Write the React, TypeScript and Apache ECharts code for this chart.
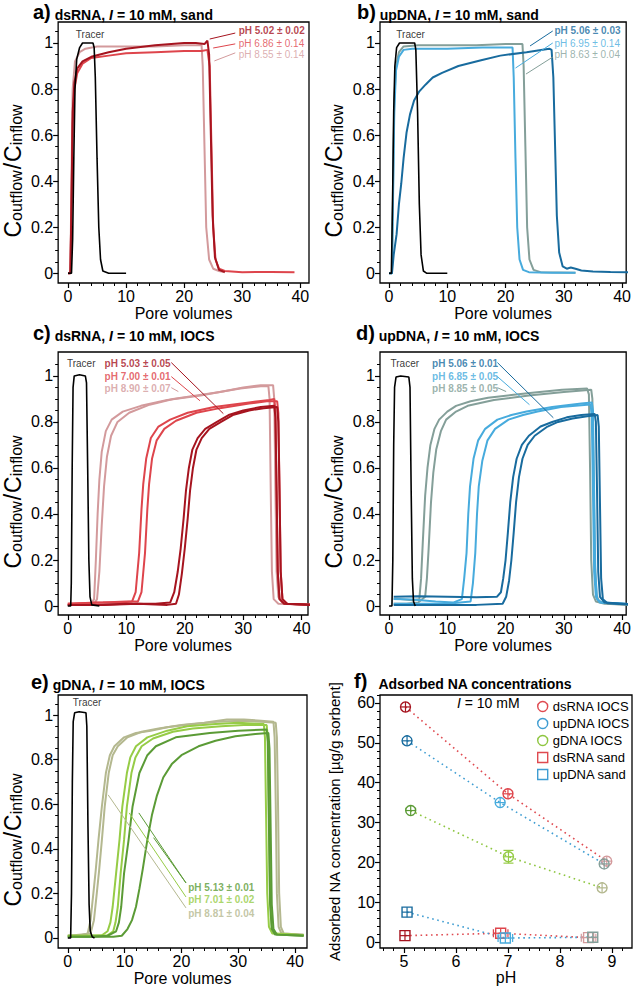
import React, { useEffect, useRef } from "react";
import * as echarts from "echarts";

const FONT = '"Liberation Sans", Arial, Helvetica, sans-serif';

// ---------- colours (pH 5, pH 7, pH 9) ----------
const DSRNA = ["#a6141f", "#de454c", "#d39a9c"];
const UPDNA = ["#186b9e", "#47abdd", "#849f99"];
const GDNA = ["#5b9b36", "#96cc46", "#b4b88f"];
const LEG_DS = "#df4a50";
const LEG_UP = "#3f9dd2";
const LEG_G = "#8ec640";

// ---------- tick labels ----------
const xMajor = [0, 10, 20, 30, 40];
const yMajor = [0, 0.2, 0.4, 0.6, 0.8, 1];
const phMajor = [5, 6, 7, 8, 9];
const concMajor = [0, 10, 20, 30, 40, 50, 60];

// ---------- panel a: dsRNA, sand ----------
const tracerA = [[0,0],[0.6,0],[0.8,0.15],[1,0.5],[1.2,0.8],[1.5,0.93],[2,0.98],[2.5,1],[3,1],[4.3,1],[4.5,0.98],[4.7,0.85],[5,0.5],[5.3,0.2],[5.6,0.06],[6,0.01],[7,0],[10,0]];
const dsSand5 = [[0,0],[0.4,0],[0.6,0.3],[0.8,0.7],[1.1,0.83],[1.6,0.89],[2.5,0.92],[4,0.94],[7,0.96],[10,0.975],[15,0.99],[20,1.0],[22,1.0],[23.5,0.995],[24,1.01],[24.3,0.95],[24.6,0.6],[24.9,0.25],[25.3,0.07],[26,0.015],[27,0.005]];
const dsSand7 = [[0,0],[0.4,0],[0.6,0.3],[0.8,0.65],[1.1,0.8],[1.6,0.87],[2.5,0.91],[4,0.935],[7,0.945],[10,0.955],[15,0.96],[20,0.965],[23,0.965],[24,0.97],[24.4,0.9],[24.7,0.55],[25,0.2],[25.4,0.06],[26,0.02],[27,0.01],[30,0.005],[35,0.006],[39,0.005]];
const dsSand9 = [[0,0],[0.4,0],[0.6,0.4],[0.8,0.8],[1.2,0.92],[2,0.96],[3,0.975],[5,0.985],[10,0.985],[15,0.985],[20,0.99],[23,0.99],[23.2,0.9],[23.5,0.55],[23.8,0.2],[24.3,0.06],[25,0.02],[26,0.01],[27,0.005]];

// ---------- panel b: upDNA, sand ----------
const tracerB = [[0,0],[0.4,0],[0.6,0.3],[0.8,0.7],[1,0.9],[1.3,0.98],[1.8,1],[4.4,1],[4.6,0.97],[4.9,0.7],[5.2,0.3],[5.5,0.08],[5.9,0.01],[6.5,0],[10,0]];
const upSand5 = [[0,0],[0.5,0],[0.8,0.08],[1.3,0.17],[1.7,0.3],[2.1,0.39],[2.5,0.5],[3,0.61],[3.6,0.69],[4.3,0.75],[5.2,0.79],[6.3,0.82],[7.5,0.85],[9.1,0.87],[11.9,0.9],[15.8,0.925],[19.1,0.945],[23.6,0.96],[27.5,0.975],[27.9,0.97],[28.2,0.85],[28.5,0.55],[28.8,0.25],[29.2,0.09],[29.8,0.03],[30.5,0.02],[31.2,0.025],[32,0.02],[33,0.012],[35,0.008],[38,0.006],[41.5,0.004]];
const upSand7 = [[0,0],[0.5,0],[0.7,0.35],[0.9,0.7],[1.2,0.88],[1.7,0.94],[2.5,0.97],[4,0.975],[10,0.975],[16,0.98],[20,0.98],[21.2,0.98],[21.4,0.85],[21.7,0.5],[22,0.2],[22.4,0.06],[23,0.015],[24,0.005],[28,0.003],[32,0.003]];
const upSand9 = [[0,0],[0.5,0],[0.7,0.4],[0.9,0.75],[1.2,0.9],[1.7,0.96],[2.5,0.985],[5,0.99],[10,0.99],[15,0.99],[20,0.995],[22.9,0.995],[23.1,0.9],[23.4,0.55],[23.7,0.2],[24.1,0.06],[24.8,0.015],[26,0.005],[32,0.003]];

// ---------- panel c: dsRNA, IOCS ----------
const tracerC = [[0,0],[0.5,0],[0.6,0.1],[0.75,0.6],[0.9,0.95],[1.1,1.0],[2,1.005],[3.0,1.0],[3.2,0.97],[3.4,0.6],[3.6,0.2],[3.8,0.04],[4.1,0.005],[5.4,0]];
const dsIocs9a = [[0,0.005],[4,0.01],[4.5,0.03],[4.8,0.2],[5.1,0.4],[5.4,0.55],[5.8,0.67],[6.5,0.76],[7.5,0.81],[9.4,0.845],[12.5,0.87],[17,0.895],[22.7,0.915],[26,0.93],[29.5,0.945],[33,0.955],[34.3,0.955],[34.5,0.9],[34.7,0.5],[34.9,0.15],[35.2,0.03],[36,0.01],[41.5,0.005]];
const dsIocs9b = [[0,0.005],[4.5,0.01],[5,0.03],[5.4,0.15],[5.8,0.35],[6.2,0.52],[6.7,0.65],[7.4,0.74],[8.5,0.8],[10.5,0.84],[14,0.875],[18,0.9],[22,0.915],[26,0.93],[30,0.95],[33,0.96],[35.1,0.96],[35.3,0.9],[35.5,0.5],[35.7,0.15],[36,0.04],[36.8,0.01],[41.5,0.005]];
const dsIocs7a = [[0,0.01],[5,0.015],[9,0.015],[11,0.02],[11.6,0.06],[12.2,0.23],[12.6,0.42],[12.9,0.53],[13.4,0.64],[14.2,0.73],[15.5,0.78],[17.5,0.81],[20.5,0.84],[25,0.865],[31,0.885],[34.5,0.895],[35.3,0.9],[35.5,0.85],[35.7,0.5],[35.9,0.15],[36.2,0.03],[37,0.01],[41.5,0.005]];
const dsIocs7b = [[0,0.01],[6,0.015],[10,0.02],[12,0.02],[12.6,0.06],[13.2,0.23],[13.6,0.42],[13.9,0.53],[14.4,0.64],[15.2,0.72],[16.5,0.77],[18.5,0.805],[22,0.84],[26,0.86],[31,0.88],[34,0.89],[35.8,0.89],[36,0.84],[36.2,0.5],[36.4,0.15],[36.7,0.03],[37.5,0.01],[41.5,0.005]];
const dsIocs5a = [[0,0.005],[5,0.005],[10,0.01],[15,0.01],[17.5,0.015],[18.2,0.06],[18.8,0.15],[19.3,0.25],[19.8,0.38],[20.2,0.5],[20.7,0.6],[21.3,0.68],[22.2,0.73],[23.5,0.77],[25.5,0.8],[27.5,0.83],[30,0.85],[33,0.865],[35.3,0.87],[35.5,0.82],[35.7,0.5],[35.9,0.15],[36.2,0.03],[37,0.01],[41.5,0.005]];
const dsIocs5b = [[0,0.005],[6,0.005],[12,0.01],[17,0.005],[18.5,0.01],[19,0.05],[19.5,0.14],[20,0.25],[20.5,0.38],[20.9,0.5],[21.4,0.6],[22,0.68],[22.9,0.73],[24.2,0.77],[26.2,0.8],[28.2,0.83],[31,0.85],[33.5,0.86],[35.8,0.865],[36,0.8],[36.2,0.5],[36.4,0.15],[36.7,0.03],[37.5,0.01],[41.5,0.005]];

// ---------- panel d: upDNA, IOCS ----------
const tracerD = [[0,0],[0.5,0],[0.65,0.2],[0.8,0.7],[0.95,0.95],[1.2,0.995],[2,1.0],[3.4,0.995],[3.6,0.95],[3.8,0.5],[4.0,0.12],[4.2,0.02],[4.5,0]];
const upIocs9a = [[0.8,0.03],[2,0.03],[4,0.025],[5.2,0.03],[5.5,0.12],[5.8,0.28],[6.2,0.48],[6.6,0.6],[7.1,0.7],[7.8,0.77],[8.6,0.81],[10,0.845],[11.5,0.87],[14,0.89],[17,0.905],[21,0.917],[25,0.928],[29.7,0.94],[34,0.945],[34.3,0.92],[34.5,0.6],[34.7,0.2],[35,0.05],[35.5,0.02],[37,0.01],[41.5,0.005]];
const upIocs9b = [[0.8,0.01],[3,0.01],[5,0.015],[6.2,0.04],[6.5,0.12],[6.8,0.25],[7.2,0.45],[7.6,0.58],[8.1,0.68],[8.9,0.76],[9.8,0.81],[11.5,0.845],[13.5,0.87],[18,0.895],[24,0.915],[30,0.93],[34.7,0.94],[34.9,0.9],[35.1,0.6],[35.3,0.2],[35.6,0.05],[36,0.02],[38,0.01],[41.5,0.005]];
const upIocs7a = [[0.8,0.03],[4,0.028],[8,0.02],[11,0.015],[12.5,0.03],[12.9,0.12],[13.3,0.23],[13.6,0.4],[13.9,0.52],[14.5,0.64],[15.3,0.72],[16.5,0.77],[18.6,0.81],[21,0.83],[23.6,0.845],[28,0.865],[33,0.88],[34.8,0.885],[35,0.85],[35.2,0.5],[35.4,0.15],[35.7,0.03],[36.5,0.015],[41.5,0.008]];
const upIocs7b = [[0.8,0.01],[5,0.01],[10,0.01],[14,0.02],[14.4,0.1],[14.8,0.23],[15.1,0.4],[15.4,0.52],[16,0.63],[16.9,0.72],[18.2,0.77],[20.5,0.81],[23,0.83],[25.5,0.845],[29.5,0.865],[34,0.875],[34.6,0.875],[34.8,0.82],[35,0.5],[35.2,0.15],[35.5,0.04],[36.2,0.015],[41.5,0.008]];
const upIocs5a = [[0.8,0.04],[5,0.042],[10,0.04],[15,0.038],[18.5,0.04],[19.2,0.06],[19.6,0.12],[20,0.2],[20.4,0.32],[20.8,0.45],[21.3,0.56],[21.9,0.64],[22.8,0.7],[24,0.74],[26,0.78],[28,0.8],[30.5,0.82],[33,0.83],[35.3,0.835],[35.5,0.8],[35.7,0.5],[35.9,0.15],[36.2,0.04],[37,0.015],[41.5,0.008]];
const upIocs5b = [[0.8,0.005],[5,0.005],[10,0.005],[15,0.005],[19.5,0.01],[20.1,0.04],[20.6,0.11],[21,0.2],[21.4,0.32],[21.8,0.45],[22.3,0.56],[22.9,0.64],[23.8,0.7],[25,0.74],[27.2,0.78],[29,0.8],[31.5,0.815],[34,0.825],[35.8,0.83],[36,0.78],[36.2,0.45],[36.4,0.12],[36.7,0.03],[37.5,0.012],[41.5,0.006]];

// ---------- panel e: gDNA, IOCS ----------
const tracerE = [[0,0],[0.5,0],[0.65,0.2],[0.8,0.7],[0.95,0.97],[1.2,1.01],[2,1.015],[3.2,1.01],[3.35,0.95],[3.55,0.5],[3.75,0.15],[3.95,0.03],[4.3,0.005],[4.7,0]];
const gIocs9a = [[0,0.01],[2,0.01],[3.5,0.02],[4,0.08],[4.5,0.2],[4.9,0.3],[5.4,0.44],[6,0.59],[6.7,0.74],[7.4,0.82],[8.2,0.86],[9.9,0.9],[12,0.92],[14.6,0.93],[17.5,0.945],[20.5,0.955],[26.3,0.97],[30.4,0.975],[34,0.97],[36.6,0.965],[36.8,0.9],[37.0,0.6],[37.2,0.2],[37.5,0.05],[38,0.02],[41.5,0.015]];
const gIocs9b = [[0,0.01],[2,0.015],[4,0.02],[4.6,0.08],[5.1,0.2],[5.5,0.3],[6,0.44],[6.5,0.59],[7.2,0.74],[7.9,0.82],[8.8,0.86],[10.5,0.9],[13,0.925],[16,0.94],[20,0.955],[24,0.965],[28,0.98],[31,0.98],[34,0.975],[36.2,0.97],[36.4,0.9],[36.6,0.6],[36.8,0.2],[37.1,0.05],[37.6,0.02],[41.5,0.015]];
const gIocs7a = [[0,0.01],[3,0.01],[6,0.012],[7,0.03],[7.5,0.07],[7.9,0.14],[8.5,0.29],[9.1,0.44],[9.6,0.59],[10.4,0.74],[11,0.81],[12,0.86],[14,0.9],[17.5,0.93],[21,0.95],[26,0.96],[30,0.965],[34.5,0.96],[34.7,0.9],[34.9,0.55],[35.1,0.2],[35.4,0.05],[36,0.02],[41.5,0.012]];
const gIocs7b = [[0,0.01],[4,0.01],[7,0.012],[8,0.03],[8.4,0.07],[8.8,0.14],[9.3,0.29],[9.9,0.44],[10.4,0.59],[11.2,0.74],[11.9,0.81],[13,0.86],[15,0.895],[18.5,0.925],[22,0.94],[27,0.95],[31,0.955],[35,0.955],[35.2,0.9],[35.4,0.55],[35.6,0.2],[35.9,0.05],[36.5,0.02],[41.5,0.012]];
const gIocs5a = [[0,0.005],[4,0.005],[7,0.01],[8.5,0.03],[9,0.07],[9.4,0.14],[9.9,0.29],[10.7,0.44],[11.4,0.59],[12.6,0.74],[14,0.82],[15.5,0.86],[19,0.9],[25,0.92],[30,0.93],[35,0.935],[35.2,0.88],[35.4,0.5],[35.6,0.15],[35.9,0.04],[36.5,0.015],[41.5,0.01]];
const gIocs5b = [[0,0.005],[5,0.005],[8,0.005],[9.5,0.01],[10.5,0.04],[11.3,0.08],[12,0.14],[12.6,0.22],[13.2,0.31],[14,0.44],[14.8,0.55],[15.7,0.64],[16.8,0.72],[18.3,0.78],[20,0.82],[23,0.86],[26,0.885],[29.5,0.905],[33,0.915],[35.3,0.92],[35.5,0.85],[35.7,0.5],[35.9,0.15],[36.2,0.04],[36.8,0.015],[41.5,0.01]];

// ---------- panel f: adsorbed NA concentrations ----------
const phDsIocs = [5.03, 7.0, 8.9];
const concDsIocs = [59.0, 37.2, 20.3];
const phUpIocs = [5.06, 6.85, 8.85];
const concUpIocs = [50.5, 35.0, 19.6];
const phGIocs = [5.13, 7.01, 8.81];
const concGIocs = [33.0, 21.4, 13.6];
const phDsSand = [5.02, 6.86, 8.55];
const concDsSand = [1.6, 2.2, 1.1];
const phUpSand = [5.06, 6.95, 8.63];
const concUpSand = [7.5, 1.0, 1.2];
const phSdDsIocs = [0.05, 0.01, 0.07];
const phSdUpIocs = [0.01, 0.05, 0.05];
const phSdGIocs = [0.01, 0.02, 0.04];
const phSdDsSand = [0.02, 0.14, 0.14];
const phSdUpSand = [0.03, 0.14, 0.04];
const concSdDsIocs = [1.2, 1.0, 1.0];
const concSdUpIocs = [0.8, 1.0, 1.0];
const concSdGIocs = [0.8, 1.6, 0.8];
const concSdDsSand = [1.2, 1.2, 0.8];
const concSdUpSand = [1.2, 1.2, 0.8];

function steps(a: number, b: number, s: number) {
  const out: number[] = [];
  const n = Math.round((b - a) / s);
  for (let i = 0; i <= n; i++) out.push(+(a + i * s).toFixed(4));
  return out;
}

type Note = { text: string; color: string; bold?: boolean; at: number[]; from: number[]; to: number[]; mid?: number[] };

const Y_NAME_RICH = {
  C: { fontSize: 23, lineHeight: 23, padding: [0, 0, 3, 0], verticalAlign: "top", fontFamily: FONT, color: "#000" },
  s: { fontSize: 16, lineHeight: 16, verticalAlign: "bottom", fontFamily: FONT, color: "#000" },
  sl: { fontSize: 23, lineHeight: 23, padding: [0, 1, 3, 1], verticalAlign: "top", fontFamily: FONT, color: "#000" },
};

const TITLE_RICH = {
  p: { fontSize: 20, fontWeight: "bold", lineHeight: 20, verticalAlign: "bottom", fontFamily: FONT, color: "#000" },
  b: { fontSize: 14, fontWeight: "bold", lineHeight: 16, verticalAlign: "bottom", fontFamily: FONT, color: "#000" },
  bi: { fontSize: 14, fontWeight: "bold", fontStyle: "italic", lineHeight: 16, verticalAlign: "bottom", fontFamily: FONT, color: "#000" },
};

const panels = [
  {
    box: [57, 22, 252, 261], xr: [-1.7, 41.5], yr: [-0.042, 1.091], title: [33, 2, "a)", "dsRNA, ", " = 10 mM, sand"],
    curves: [[dsSand9, DSRNA[2]], [dsSand7, DSRNA[1]], [dsSand5, DSRNA[0]]], tracer: tracerA, tracerAt: [3.8, 1.035],
    notes: [
      { text: "pH 5.02 ± 0.02", color: DSRNA[0], bold: true, at: [29.3, 1.052], from: [28.8, 1.043], to: [24.4, 1.017] },
      { text: "pH 6.86 ± 0.14", color: DSRNA[1], at: [29.3, 0.996], from: [28.8, 0.996], to: [25.0, 0.978] },
      { text: "pH 8.55 ± 0.14", color: DSRNA[2], at: [29.3, 0.948], from: [28.8, 0.957], to: [25.2, 0.922] },
    ] as Note[],
  },
  {
    box: [380, 22, 253, 261], xr: [-1.55, 40.7], yr: [-0.042, 1.091], title: [357, 2, "b)", "upDNA, ", " = 10 mM, sand"],
    curves: [[upSand9, UPDNA[2]], [upSand7, UPDNA[1]], [upSand5, UPDNA[0]]], tracer: tracerB, tracerAt: [3.7, 1.035],
    notes: [
      { text: "pH 5.06 ± 0.03", color: UPDNA[0], bold: true, at: [28.3, 1.052], from: [28.1, 1.052], to: [24.2, 0.987] },
      { text: "pH 6.95 ± 0.14", color: UPDNA[1], at: [28.3, 0.998], from: [28.1, 1.0], to: [21.7, 0.891] },
      { text: "pH 8.63 ± 0.04", color: UPDNA[2], at: [28.3, 0.948], from: [28.1, 0.939], to: [23.5, 0.865] },
    ] as Note[],
  },
  {
    box: [57, 352, 251, 263], xr: [-1.65, 41.07], yr: [-0.039, 1.104], title: [33, 323, "c)", "dsRNA, ", " = 10 mM, IOCS"],
    curves: [[dsIocs9a, DSRNA[2]], [dsIocs9b, DSRNA[2]], [dsIocs7a, DSRNA[1]], [dsIocs7b, DSRNA[1]], [dsIocs5a, DSRNA[0]], [dsIocs5b, DSRNA[0]]],
    tracer: tracerC, tracerAt: [2.3, 1.054],
    notes: [
      { text: "pH 5.03 ± 0.05", color: DSRNA[0], bold: true, at: [6.2, 1.054], from: [17.7, 1.058], to: [26.6, 0.836] },
      { text: "pH 7.00 ± 0.01", color: DSRNA[1], bold: true, at: [6.2, 0.997], from: [17.7, 0.997], to: [22.6, 0.892] },
      { text: "pH 8.90 ± 0.07", color: DSRNA[2], bold: true, at: [6.2, 0.945], from: [17.7, 0.949], to: [18.9, 0.932] },
    ] as Note[],
  },
  {
    box: [380, 352, 253, 263], xr: [-1.55, 40.7], yr: [-0.039, 1.104], title: [356, 323, "d)", "upDNA, ", " = 10 mM, IOCS"],
    curves: [[upIocs9a, UPDNA[2]], [upIocs9b, UPDNA[2]], [upIocs7a, UPDNA[1]], [upIocs7b, UPDNA[1]], [upIocs5a, UPDNA[0]], [upIocs5b, UPDNA[0]]],
    tracer: tracerD, tracerAt: [2.7, 1.054],
    notes: [
      { text: "pH 5.06 ± 0.01", color: UPDNA[0], bold: true, at: [7.3, 1.054], from: [18.6, 1.058], to: [28.2, 0.818] },
      { text: "pH 6.85 ± 0.05", color: UPDNA[1], bold: true, at: [7.3, 0.997], from: [18.6, 0.997], to: [24.1, 0.875] },
      { text: "pH 8.85 ± 0.05", color: UPDNA[2], bold: true, at: [7.3, 0.945], from: [18.6, 0.949], to: [20.1, 0.932] },
    ] as Note[],
  },
  {
    box: [57, 695, 250, 253], xr: [-1.7, 42.1], yr: [-0.045, 1.09], title: [31, 672, "e)", "gDNA, ", " = 10 mM, IOCS"],
    curves: [[gIocs9a, GDNA[2]], [gIocs9b, GDNA[2]], [gIocs7a, GDNA[1]], [gIocs7b, GDNA[1]], [gIocs5a, GDNA[0]], [gIocs5b, GDNA[0]]],
    tracer: tracerE, tracerAt: [3.4, 1.055],
    notes: [
      { text: "pH 5.13 ± 0.01", color: GDNA[0], bold: true, at: [21.1, 0.225], from: [20.8, 0.247], to: [12.5, 0.561], mid: [15.1, 0.45] },
      { text: "pH 7.01 ± 0.02", color: GDNA[1], bold: true, at: [21.1, 0.171], from: [20.8, 0.184], to: [10.8, 0.561] },
      { text: "pH 8.81 ± 0.04", color: GDNA[2], bold: true, at: [21.1, 0.112], from: [20.8, 0.135], to: [7.1, 0.642] },
    ] as Note[],
  },
];

function mainAxis(dim: "x" | "y", gi: number, r: number[], major: number[], name: string, nameGap: number, nameStyle: any) {
  return {
    type: "value", gridIndex: gi, position: dim === "x" ? "bottom" : "left", min: r[0], max: r[1],
    axisLine: { show: false, onZero: false }, splitLine: { show: false },
    axisTick: { show: true, length: 5, customValues: major, lineStyle: { color: "#000", width: 1.2 } },
    axisLabel: { show: true, customValues: major, margin: 5, fontSize: 16, color: "#000", fontFamily: FONT },
    name, nameLocation: "middle", nameGap, nameRotate: dim === "y" ? 90 : 0, nameTextStyle: nameStyle,
  };
}
function minorAxis(dim: "x" | "y", gi: number, r: number[], minor: number[]) {
  return {
    type: "value", gridIndex: gi, position: dim === "x" ? "bottom" : "left", min: r[0], max: r[1],
    axisLine: { show: false, onZero: false }, splitLine: { show: false }, axisLabel: { show: false },
    axisTick: { show: true, length: 3, customValues: minor, lineStyle: { color: "#000", width: 1 } },
  };
}

function buildOption() {
  const grid: any[] = [], xAxis: any[] = [], yAxis: any[] = [], series: any[] = [], title: any[] = [];
  const xMinor = steps(0, 40, 2);
  const yMinor = steps(0, 1.05, 0.05);

  panels.forEach((p, i) => {
    grid.push({ left: p.box[0], top: p.box[1], width: p.box[2], height: p.box[3], show: true, borderColor: "#000", borderWidth: 1.3, backgroundColor: "transparent" });
    const xi = xAxis.length, yi = yAxis.length;
    xAxis.push(mainAxis("x", i, p.xr, xMajor, "Pore volumes", 22, { fontSize: 16, color: "#000", fontFamily: FONT }));
    xAxis.push(minorAxis("x", i, p.xr, xMinor.filter((v) => v >= p.xr[0] && v <= p.xr[1])));
    yAxis.push(mainAxis("y", i, p.yr, yMajor, "{C|C}{s|outflow}{sl|/}{C|C}{s|inflow}", 29, { rich: Y_NAME_RICH, fontFamily: FONT, color: "#000", padding: [0, 37, 0, 0] }));
    yAxis.push(minorAxis("y", i, p.yr, yMinor.filter((v) => v >= p.yr[0] && v <= p.yr[1])));

    const t = p.title as any[];
    title.push({ left: t[0], top: t[1], padding: 0, text: `{p|${t[2]}}{b| ${t[3]}}{bi|I}{b|${t[4]}}`, textStyle: { rich: TITLE_RICH } });

    (p.curves as any[]).forEach(([data, color]) => {
      series.push({ type: "line", xAxisIndex: xi, yAxisIndex: yi, data, symbol: "none", silent: true, lineStyle: { color, width: 2 }, z: 2 });
    });
    series.push({ type: "line", xAxisIndex: xi, yAxisIndex: yi, data: p.tracer, symbol: "none", silent: true, lineStyle: { color: "#000", width: 1.6 }, z: 3 });
    series.push({
      type: "scatter", xAxisIndex: xi, yAxisIndex: yi, silent: true, symbolSize: 1, itemStyle: { color: "rgba(0,0,0,0)" }, z: 5,
      data: [p.tracerAt],
      label: { show: true, position: "inside", formatter: "Tracer", color: "#000", fontSize: 10, fontFamily: FONT },
    });
    p.notes.forEach((n) => {
      const lines: any[] = [[{ coord: n.from }, { coord: n.to }]];
      if (n.mid) lines.push([{ coord: n.from }, { coord: n.mid }]);
      series.push({
        type: "scatter", xAxisIndex: xi, yAxisIndex: yi, silent: true, symbolSize: 1, itemStyle: { color: "rgba(0,0,0,0)" }, z: 5,
        data: [n.at],
        label: { show: true, position: "right", distance: 0, formatter: n.text, color: n.color, fontSize: 10, fontWeight: n.bold ? "bold" : "normal", fontFamily: FONT },
        markLine: {
          silent: true, animation: false, symbol: ["none", "arrow"], symbolSize: [0, 5], label: { show: false },
          lineStyle: { color: n.color, width: 1, type: "solid" }, emphasis: { disabled: true }, data: lines,
        },
      });
    });
  });

  // ---------- panel f ----------
  const fi = panels.length;
  const fxr = [4.54, 9.385], fyr = [-1.5, 62];
  grid.push({ left: 380, top: 695, width: 252, height: 253, show: true, borderColor: "#000", borderWidth: 1.3, backgroundColor: "transparent" });
  const xi = xAxis.length, yi = yAxis.length;
  xAxis.push(mainAxis("x", fi, fxr, phMajor, "pH", 19, { fontSize: 16, color: "#000", fontFamily: FONT }));
  xAxis.push(minorAxis("x", fi, fxr, steps(4.6, 9.2, 0.2)));
  yAxis.push(mainAxis("y", fi, fyr, concMajor, "Adsorbed NA concentration [µg/g sorbent]", 38, { fontSize: 15, color: "#000", fontFamily: FONT }));
  yAxis.push(minorAxis("y", fi, fyr, steps(0, 62, 2)));
  title.push({ left: 354, top: 671, padding: 0, text: "{p|f)}{b|   Adsorbed NA concentrations}", textStyle: { rich: TITLE_RICH } });
  title.push({
    left: 457, top: 696, padding: 0, text: "{i|I}{t| = 10 mM}",
    textStyle: {
      fontWeight: "normal",
      rich: {
        i: { fontSize: 14, fontStyle: "italic", fontWeight: "normal", fontFamily: FONT, color: "#000" },
        t: { fontSize: 14, fontWeight: "normal", fontFamily: FONT, color: "#000" },
      },
    },
  });

  const groups = [
    { name: "dsRNA IOCS", shape: "circle", ph: phDsIocs, c: concDsIocs, sx: phSdDsIocs, sy: concSdDsIocs, cols: DSRNA, leg: LEG_DS },
    { name: "upDNA IOCS", shape: "circle", ph: phUpIocs, c: concUpIocs, sx: phSdUpIocs, sy: concSdUpIocs, cols: UPDNA, leg: LEG_UP },
    { name: "gDNA IOCS", shape: "circle", ph: phGIocs, c: concGIocs, sx: phSdGIocs, sy: concSdGIocs, cols: GDNA, leg: LEG_G },
    { name: "dsRNA sand", shape: "rect", ph: phDsSand, c: concDsSand, sx: phSdDsSand, sy: concSdDsSand, cols: DSRNA, leg: LEG_DS },
    { name: "upDNA sand", shape: "rect", ph: phUpSand, c: concUpSand, sx: phSdUpSand, sy: concSdUpSand, cols: UPDNA, leg: LEG_UP },
  ];
  groups.forEach((g) => {
    series.push({
      type: "line", xAxisIndex: xi, yAxisIndex: yi, data: g.ph.map((v, k) => [v, g.c[k]]), symbol: "none", silent: true, z: 2,
      lineStyle: { color: g.leg, width: 1.6, type: [1.6, 3.6] },
    });
  });
  groups.forEach((g) => {
    series.push({
      type: "custom", name: g.name, xAxisIndex: xi, yAxisIndex: yi, silent: true, z: 4, itemStyle: { color: g.leg },
      data: g.ph.map((v, k) => [v, g.c[k], g.sx[k], g.sy[k], k]),
      renderItem: (params: any, api: any) => {
        const x = api.value(0), y = api.value(1), sx = api.value(2), sy = api.value(3), k = api.value(4);
        const col = g.cols[k];
        const c = api.coord([x, y]);
        const l = api.coord([x - sx, y]), r = api.coord([x + sx, y]);
        const t = api.coord([x, y + sy]), b = api.coord([x, y - sy]);
        const R = 5;
        const st = { stroke: col, lineWidth: 1.4, fill: "none" };
        const ls = { stroke: col, lineWidth: 1.2 };
        const kids: any[] = [];
        if (g.shape === "circle") kids.push({ type: "circle", shape: { cx: c[0], cy: c[1], r: R }, style: st });
        else kids.push({ type: "rect", shape: { x: c[0] - R, y: c[1] - R, width: 2 * R, height: 2 * R }, style: st });
        const x0 = Math.min(l[0], c[0] - R), x1 = Math.max(r[0], c[0] + R);
        const y0 = Math.min(t[1], c[1] - R), y1 = Math.max(b[1], c[1] + R);
        kids.push({ type: "line", shape: { x1: x0, y1: c[1], x2: x1, y2: c[1] }, style: ls });
        kids.push({ type: "line", shape: { x1: c[0], y1: y0, x2: c[0], y2: y1 }, style: ls });
        if (x1 > c[0] + R + 0.5) {
          kids.push({ type: "line", shape: { x1: x0, y1: c[1] - 4, x2: x0, y2: c[1] + 4 }, style: ls });
          kids.push({ type: "line", shape: { x1: x1, y1: c[1] - 4, x2: x1, y2: c[1] + 4 }, style: ls });
        }
        if (y1 > c[1] + R + 0.5) {
          kids.push({ type: "line", shape: { x1: c[0] - 5, y1: y0, x2: c[0] + 5, y2: y0 }, style: ls });
          kids.push({ type: "line", shape: { x1: c[0] - 5, y1: y1, x2: c[0] + 5, y2: y1 }, style: ls });
        }
        return { type: "group", children: kids };
      },
    });
  });

  const legend = {
    orient: "vertical", left: 532, top: 695, itemWidth: 10, itemHeight: 10, itemGap: 4, selectedMode: false,
    textStyle: { fontSize: 13, color: "#000", fontFamily: FONT },
    data: groups.map((g) => ({
      name: g.name, icon: g.shape === "circle" ? "circle" : "rect",
      itemStyle: { color: "rgba(255,255,255,0)", borderColor: g.leg, borderWidth: 1.4 },
    })),
  };

  return { animation: false, backgroundColor: "#fff", textStyle: { fontFamily: FONT }, title, grid, xAxis, yAxis, series, legend };
}

export default function App() {
  const ref = useRef<HTMLDivElement>(null);
  useEffect(() => {
    if (!ref.current) return;
    const chart = echarts.init(ref.current, undefined, { renderer: "svg" });
    chart.setOption(buildOption() as any);
    return () => chart.dispose();
  }, []);
  return <div ref={ref} style={{ position: "absolute", left: 0, top: 0, width: 634, height: 987 }} />;
}
